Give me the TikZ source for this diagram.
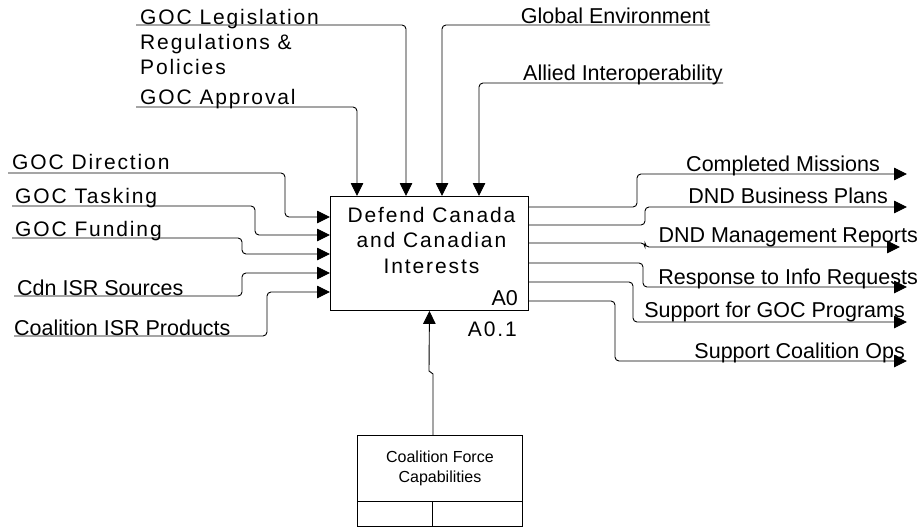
\documentclass[tikz,border=0pt]{standalone}
\usepackage{fontspec}
\setmainfont{Liberation Sans}
\newfontfamily\spacedsans{Liberation Sans}[LetterSpace=9]
\usetikzlibrary{arrows.meta,positioning}
\tikzset{
	flow/.style={line width=0.9pt, rounded corners=4pt, -{Triangle[length=13pt,width=12.5pt]}},
	flowlabel/.style={inner sep=0pt, font=\fontsize{21.5}{25}\selectfont},
	govlabel/.style={inner sep=0pt, font=\spacedsans\fontsize{21}{25}\selectfont},
	activity/.style={rectangle, draw, line width=0.9pt, inner sep=0pt, minimum width=198pt, minimum height=114pt},
	mechanism/.style={rectangle, draw, line width=0.9pt, inner sep=0pt, minimum width=165pt, minimum height=91pt}
}
\begin{document}
\begin{tikzpicture}[x=1pt, y=-1pt]
			\useasboundingbox (0,0) rectangle (924,527);
			
			%Blocks
			\node (defend) at (330,196) [activity, anchor=north west] {};
			\node (defendText) [govlabel, align=center, below=11pt of defend.north, xshift=2pt, 
			font=\spacedsans\fontsize{21}{25.5}\selectfont] {Defend Canada\\and Canadian\\Interests};
			\node (nodeNum) at (518,305) [flowlabel, anchor=base east] {A0};
			\node (diagNum) at (517,336) [govlabel, anchor=base east] {A0.1};
			\node (capab) at (357,435) [mechanism, anchor=north west] {};
			\node (capabText) [below=16pt of capab.north, inner sep=0pt, align=center, 
			font=\fontsize{16}{19.5}\selectfont] {Coalition Force\\Capabilities};
			\draw [line width=0.9pt] ([yshift=25pt]capab.south west) -- ([yshift=25pt]capab.south east);
			\draw [line width=0.9pt] ([yshift=25pt,xshift=-7.5pt]capab.south) -- ([xshift=-7.5pt]capab.south);
			
			%Labels
			\node (legis) at (140,9) [govlabel, align=left, anchor=north west] {GOC Legislation\\Regulations \&\\Policies};
			\node (approval) at (140,104) [govlabel, anchor=base west] {GOC Approval};
			\node (globalEnv) at (710,24) [flowlabel, anchor=base east] {Global Environment};
			\node (allied) at (723,81) [flowlabel, anchor=base east] {Allied Interoperability};
			\node (direction) at (12,169) [govlabel, anchor=base west] {GOC Direction};
			\node (tasking) at (15,203) [govlabel, anchor=base west] {GOC Tasking};
			\node (funding) at (15,236) [govlabel, anchor=base west] {GOC Funding};
			\node (cdnIsr) at (17,295) [flowlabel, anchor=base west] {Cdn ISR Sources};
			\node (coalIsr) at (14,335) [flowlabel, anchor=base west] {Coalition ISR Products};
			\node (missions) at (880,171) [flowlabel, anchor=base east] {Completed Missions};
			\node (business) at (888,203) [flowlabel, anchor=base east] {DND Business Plans};
			\node (mgmt) at (918,242) [flowlabel, anchor=base east] {DND Management Reports};
			\node (response) at (918,284) [flowlabel, anchor=base east] {Response to Info Requests};
			\node (programs) at (905,317) [flowlabel, anchor=base east] {Support for GOC Programs};
			\node (coalOps) at (905,358) [flowlabel, anchor=base east] {Support Coalition Ops};
			
			%Free ends
			\coordinate (legisIn) at (136,25);
			\coordinate (approvalIn) at (136,107);
			\coordinate (globalIn) at (710,25);
			\coordinate (alliedIn) at (723,83);
			\coordinate (directionIn) at (8,173);
			\coordinate (taskingIn) at (12,206);
			\coordinate (fundingIn) at (12,238);
			\coordinate (cdnIn) at (14,296);
			\coordinate (coalIn) at (14,336);
			\coordinate (missionsOut) at (907,174);
			\coordinate (businessOut) at (907,207);
			\coordinate (mgmtOut) at (900,247);
			\coordinate (responseOut) at (907,287);
			\coordinate (programsOut) at (907,322);
			\coordinate (coalOpsOut) at (907,361);
			
			%Links
			\draw [flow] (legisIn) -| (406,0 |- defend.north);
			\draw [flow] (approvalIn) -| (357,0 |- defend.north);
			\draw [flow] (globalIn) -| (442,0 |- defend.north);
			\draw [flow] (alliedIn) -| (479,0 |- defend.north);
			\draw [flow] (directionIn) -| (285,217) -- (defend.west |- 0,217);
			\draw [flow] (taskingIn) -| (255,235) -- (defend.west |- 0,235);
			\draw [flow] (fundingIn) -| (242,254) -- (defend.west |- 0,254);
			\draw [flow] (cdnIn) -| (242,273) -- (defend.west |- 0,273);
			\draw [flow] (coalIn) -| (267,292) -- (defend.west |- 0,292);
			\draw [flow] (defend.east |- 0,207) -| (637,174) -- (missionsOut);
			\draw [flow] (defend.east |- 0,225) -| (645,207) -- (businessOut);
			\draw [flow] (defend.east |- 0,243) -| (645,247) -- (mgmtOut);
			\draw [flow] (defend.east |- 0,263) -| (643,287) -- (responseOut);
			\draw [flow] (defend.east |- 0,282) -| (633,322) -- (programsOut);
			\draw [flow] (defend.east |- 0,301) -| (615,361) -- (coalOpsOut);
			\draw [flow, sharp corners] (capab.north -| 433,0) -- (433,374) -- (429,371) -- (defend.south);
			
\end{tikzpicture}
\end{document}
